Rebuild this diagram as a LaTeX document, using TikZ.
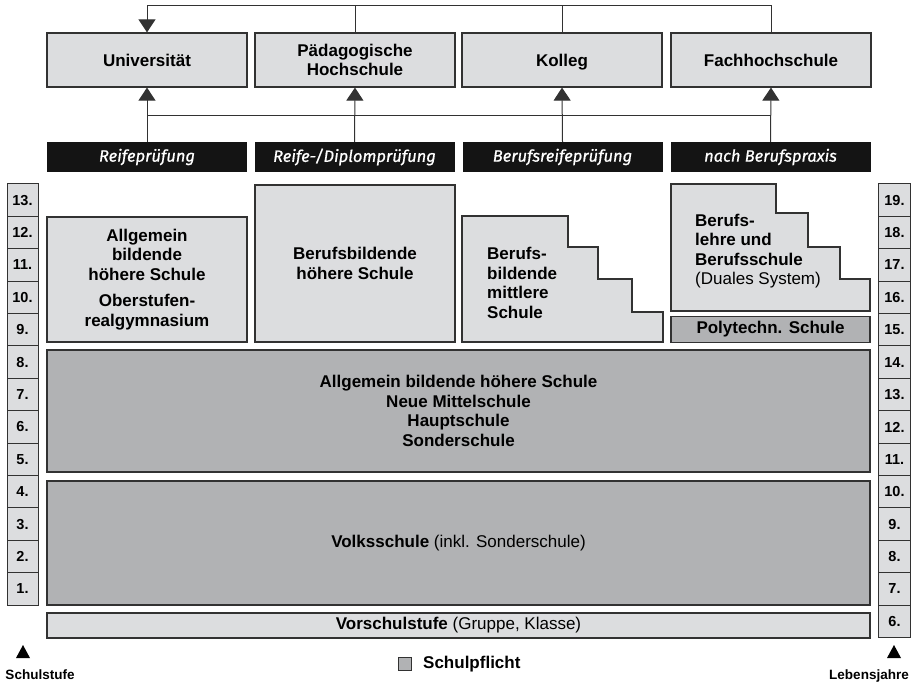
\documentclass[tikz,border=0pt]{standalone}
\usepackage{fontspec}
\setmainfont{Liberation Sans}
\newfontfamily\examfont[FakeBold=0.8]{Fira Sans}
\usetikzlibrary{positioning}
\usetikzlibrary{arrows.meta}
\usetikzlibrary{calc}
\definecolor{lightbox}{RGB}{220,221,223}
\definecolor{darkbox}{RGB}{177,178,180}
\definecolor{rim}{RGB}{50,50,50}
\tikzstyle{schoolbox}=[draw=rim,fill=lightbox,line width=1.2pt,inner sep=0pt,align=center,font=\bfseries\fontsize{17}{19.5}\selectfont]
\tikzstyle{dutybox}=[schoolbox,fill=darkbox]
\tikzstyle{exambox}=[fill=black!92,text=white,inner sep=0pt,minimum width=200pt,minimum height=30pt,font=\examfont\itshape\fontsize{16.5}{18}\selectfont]
\tikzstyle{yearbox}=[draw=rim,fill=lightbox,line width=1pt,inner sep=0pt,minimum width=31pt,minimum height=32.4pt,font=\bfseries\fontsize{14.5}{16}\selectfont]
\tikzstyle{steptext}=[inner sep=0pt,align=left,anchor=west,font=\bfseries\fontsize{17}{19.5}\selectfont]
\tikzstyle{caption}=[inner sep=0pt,font=\bfseries\fontsize{13.5}{15}\selectfont]
\tikzstyle{link}=[draw=rim,line width=1pt]
\tikzstyle{arrowlink}=[link,-{Triangle[width=17pt,length=13pt]}]

\begin{document}
\begin{tikzpicture}[x=1pt,y=-1pt]
    \useasboundingbox (0,0) rectangle (919,684);
    % helper coordinates for the two horizontal lines
    \coordinate (top) at (0,6);
    \coordinate (bar) at (0,116);

    % the four schools at the top
    \foreach \pos/\name/\label in {{(147,60)/uni/Universität}, {(355,60)/ph/{Pädagogische\\Hochschule}}, {(562,60)/kolleg/{\raisebox{0pt}[\height][0pt]{Kolleg}}}, {(771,60)/fh/Fachhochschule}}
        \node[schoolbox,minimum width=200pt,minimum height=54pt] (\name) at \pos {\label};

    % the exams
    \foreach \pos/\name/\label in {{(147,157)/reife/Reifeprüfung}, {(354.5,157)/diplom/{Reife-/Diplomprüfung}}, {(562.5,157)/brp/Berufsreifeprüfung}, {(770.5,157)/praxis/nach Berufspraxis}}
        \node[exambox] (\name) at \pos {\label};

    % connectors
    \draw[arrowlink] (fh.north) -- (fh.north |- top) -| (uni.north);
    \draw[link] (ph.north) -- (ph.north |- top);
    \draw[link] (kolleg.north) -- (kolleg.north |- top);
    \draw[link] (reife.north |- bar) -- (praxis.north |- bar);
    \foreach \source/\dest in {reife/uni, diplom/ph, brp/kolleg, praxis/fh}
        \draw[arrowlink] (\source.north) -- (\dest.south);

    % Schulstufe and Lebensjahre
    \foreach \n in {1,...,13} {
        \pgfmathtruncatemacro{\stufe}{14-\n}
        \node[yearbox] (s\stufe) at (22.5,{184+32.4*\n-16.2}) {\stufe.};
    }
    \foreach \n in {1,...,14} {
        \pgfmathtruncatemacro{\jahr}{20-\n}
        \node[yearbox,minimum width=32pt] (j\jahr) at (894.5,{184+32.4*\n-16.2}) {\jahr.};
    }

    % upper secondary
    \node[schoolbox,minimum width=200pt,minimum height=125pt] (ahs) at (147,279.5) {Allgemein\\bildende\\höhere Schule\\[7pt]Oberstufen-\\realgymnasium};
    \node[schoolbox,minimum width=200pt,minimum height=157pt] (bhs) at (355,263.5) {Berufsbildende\\höhere Schule};
    \draw[draw=rim,fill=lightbox,line width=1.2pt] (462,216) -- (568,216) -- (568,247) -- (598,247) -- (598,279) -- (632,279) -- (632,312) -- (663,312) -- (663,342) -- (462,342) -- cycle;
    \node[steptext] (bms) at (487,283) {Berufs-\\bildende\\mittlere\\Schule};
    \draw[draw=rim,fill=lightbox,line width=1.2pt] (671,184) -- (776,184) -- (776,213) -- (808,213) -- (808,247) -- (840,247) -- (840,279) -- (870,279) -- (870,311) -- (671,311) -- cycle;
    \node[steptext] (lehre) at (695,251) {Berufs-\\lehre und\\Berufsschule\\\mdseries(Duales System)};
    \node[dutybox,minimum width=199pt,minimum height=26pt] (pts) at (770.5,329.5) {Polytechn. Schule};

    % compulsory school
    \node[dutybox,minimum width=823pt,minimum height=122pt] (sek) at (458.5,411) {Allgemein bildende höhere Schule\\Neue Mittelschule\\Hauptschule\\Sonderschule};
    \node[dutybox,minimum width=823pt,minimum height=124pt] (vs) at (458.5,543) {Volksschule \mdseries(inkl. Sonderschule)};
    \node[schoolbox,minimum width=823pt,minimum height=25pt] (vor) at (458.5,625.5) {Vorschulstufe \mdseries(Gruppe, Klasse)};

    % legend
    \fill[black] (16,658) -- (30,658) -- (23,645) -- cycle;
    \fill[black] (887,658) -- (901,658) -- (894,645) -- cycle;
    \node[caption] (stufe) at (40,675) {Schulstufe};
    \node[caption] (jahre) at (869,676) {Lebensjahre};
    \node[draw=rim,fill=darkbox,line width=1pt,minimum size=13pt,inner sep=0pt] (key) at (405,664) {};
    \node[caption,anchor=west,font=\bfseries\fontsize{17}{19}\selectfont] (pflicht) at (423,664) {Schulpflicht};
\end{tikzpicture}
\end{document}
